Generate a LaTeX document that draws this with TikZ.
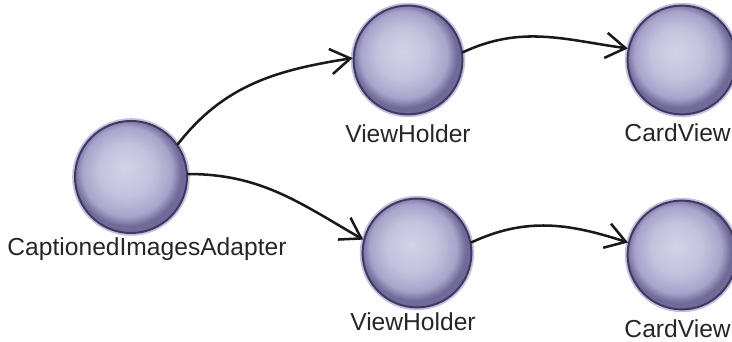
\documentclass[tikz,border=0pt]{standalone}
\usepackage{fontspec}
\setmainfont{Liberation Sans}
\usepackage{xcolor}
\usetikzlibrary{arrows.meta}
\definecolor{orbCore}{RGB}{212,210,230}
\definecolor{orbLight}{RGB}{196,193,222}
\definecolor{orbMid}{RGB}{168,163,202}
\definecolor{orbDeep}{RGB}{112,106,152}
\definecolor{orbRim}{RGB}{62,56,100}
\definecolor{orbHalo}{RGB}{196,192,222}
\pgfdeclareradialshading{orb}{\pgfpoint{-3bp}{4bp}}{%
  color(0bp)=(orbCore); color(12bp)=(orbLight); color(20bp)=(orbMid);
  color(24bp)=(orbDeep); color(25bp)=(orbDeep); color(50bp)=(orbDeep)}

\begin{document}
\begin{tikzpicture}[x=0.025cm, y=0.025cm,
    ball/.style={circle, minimum size=2.72cm, inner sep=0pt,
                 shading=orb, draw=orbRim, line width=1.4pt,
                 preaction={draw=orbHalo, line width=4pt}},
    lbl/.style={font=\fontsize{17.5}{20}\selectfont, text=black!85, inner sep=0pt},
    link/.style={-{Straight Barb[length=14pt, width=18pt]},
                 line width=1.8pt, line cap=round, black!90}]

% cadre (732 x 342 px)
\useasboundingbox (0,0) rectangle (732,342);

% boules
\node[ball, minimum size=2.8cm] (adapter) at (131,165) {};
\node[ball] (vhTop) at (408,282) {};
\node[ball] (vhBot) at (417,89) {};
\node[ball] (cvTop) at (682,282) {};
\node[ball] (cvBot) at (682,87) {};

% noms
\node[lbl] (lAdapter) at (147,93) {CaptionedImagesAdapter};
\node[lbl] (lVhTop) at (408,208) {ViewHolder};
\node[lbl] (lVhBot) at (413,20) {ViewHolder};
\node[lbl, anchor=east] (lCvTop) at (731,209) {CardView};
\node[lbl, anchor=east] (lCvBot) at (731,13) {CardView};

% fleches
\draw[link] (adapter.35) to[out=52, in=189] (vhTop.178);
\draw[link] (adapter.3) to[out=0, in=150] (vhBot.166);
\draw[link] (vhTop.8) to[out=25, in=172] (cvTop.168);
\draw[link] (vhBot.11) to[out=25, in=162] (cvBot.167);

\end{tikzpicture}
\end{document}
